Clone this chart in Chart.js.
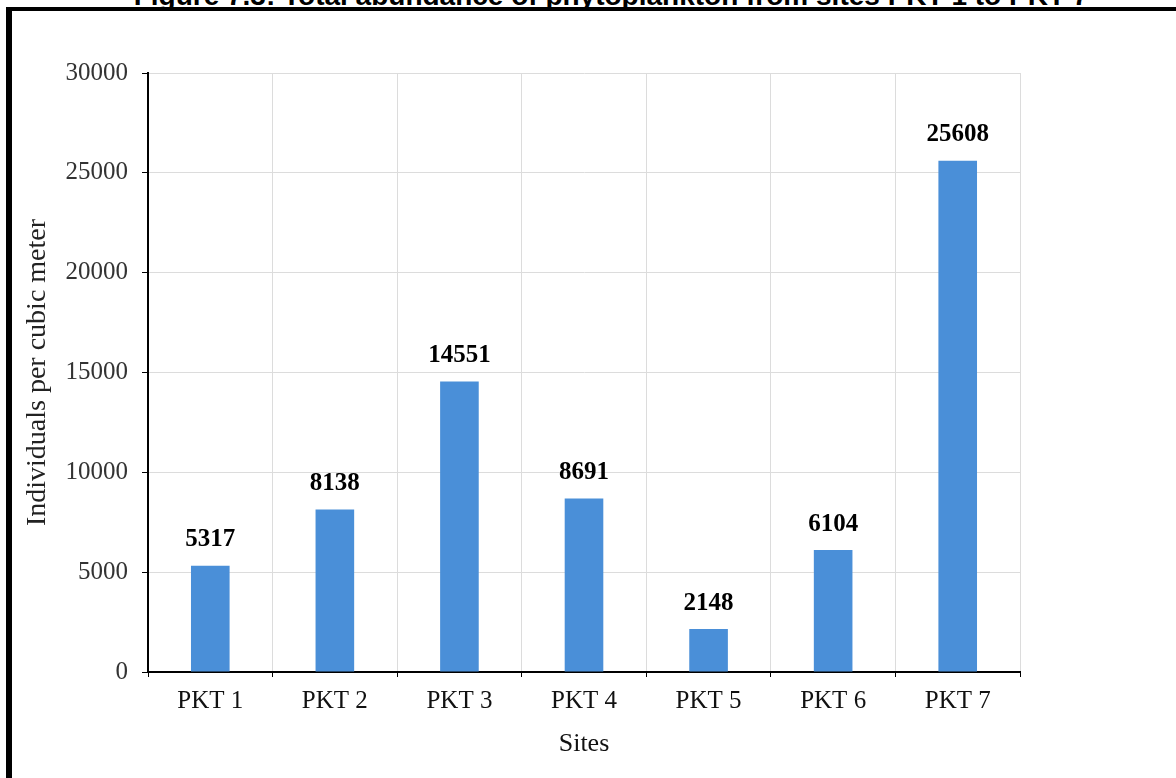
<!DOCTYPE html>
<html>
<head>
<meta charset="utf-8">
<title>Phytoplankton abundance</title>
<script src="https://cdn.jsdelivr.net/npm/chart.js@4/dist/chart.umd.min.js"></script>
<style>
  body { margin: 0; background: #fff; width: 1176px; height: 778px; overflow: hidden; position: relative; }
  #caption {
    position: absolute; top: -18px; left: 23px; width: 1176px;
    text-align: center; white-space: nowrap;
    font: bold 28px "Liberation Sans", Arial, sans-serif; line-height: 28px; color: #000;
  }
  #frame {
    position: absolute; left: 6px; top: 7px; width: 1200px; height: 800px;
    border-left: 6px solid #000; border-top: 4px solid #000;
  }
  #chartBox { position: absolute; left: 0; top: 0; width: 1176px; height: 778px; }
</style>
</head>
<body>
<div id="caption">Figure 7.3: Total abundance of phytoplankton from sites PKT 1 to PKT 7</div>
<div id="frame"></div>
<div id="chartBox"><canvas id="myChart" width="1176" height="778"></canvas></div>
<script>
// sites and abundance (individuals per cubic meter)
const sites = ["PKT 1", "PKT 2", "PKT 3", "PKT 4", "PKT 5", "PKT 6", "PKT 7"];
const abundance = [5317, 8138, 14551, 8691, 2148, 6104, 25608];
const yTicks = [0, 5000, 10000, 15000, 20000, 25000, 30000];

const serif = "'Liberation Serif', 'Times New Roman', serif";

// value labels above each bar
const barLabels = {
  id: "barLabels",
  afterDatasetsDraw(chart) {
    const ctx = chart.ctx;
    const meta = chart.getDatasetMeta(0);
    ctx.save();
    ctx.font = "bold 25px " + serif;
    ctx.fillStyle = "#000";
    ctx.textAlign = "center";
    ctx.textBaseline = "middle";
    meta.data.forEach((bar, i) => {
      ctx.fillText(String(abundance[i]), bar.x, bar.y - 26);
    });
    ctx.restore();
  }
};

const ctx = document.getElementById("myChart").getContext("2d");
const chart = new Chart(ctx, {
  type: "bar",
  data: {
    labels: sites,
    datasets: [{
      label: "Individuals per cubic meter",
      data: abundance,
      backgroundColor: "#4a8fd8",
      borderWidth: 0,
      categoryPercentage: 1,
      barPercentage: 0.31
    }]
  },
  options: {
    responsive: false,
    animation: false,
    layout: { padding: { left: 12, top: 73, right: 156, bottom: 0 } },
    plugins: {
      legend: { display: false },
      tooltip: { enabled: false }
    },
    scales: {
      x: {
        grid: { color: "#dcdcdc", tickColor: "#000", tickLength: 5, offset: true },
        border: { color: "#000", width: 2 },
        ticks: { color: "#111", padding: 9, font: { family: serif, size: 25 } },
        title: {
          display: true,
          text: "Sites",
          color: "#111",
          font: { family: serif, size: 26 },
          padding: { top: 0, bottom: 18 }
        },
        afterFit(scale) { scale.height = 106; }
      },
      y: {
        min: 0,
        max: 30000,
        afterBuildTicks(scale) { scale.ticks = yTicks.map(v => ({ value: v })); },
        grid: { color: "#dcdcdc", tickColor: "#000", tickLength: 6 },
        border: { color: "#000", width: 2 },
        ticks: {
          color: "#333",
          padding: 14,
          font: { family: serif, size: 25 },
          callback: (v) => String(v)
        },
        title: {
          display: true,
          text: "Individuals per cubic meter",
          color: "#222",
          font: { family: serif, size: 28 },
          padding: { top: 9, bottom: 0 }
        },
        afterFit(scale) { scale.width = 136; }
      }
    }
  },
  plugins: [barLabels]
});
</script>
</body>
</html>
